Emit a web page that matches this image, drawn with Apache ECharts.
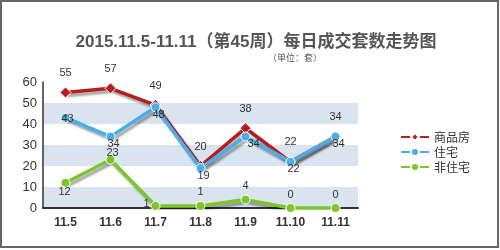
<!DOCTYPE html>
<html lang="zh">
<head>
    <meta charset="UTF-8">
    <title>每日成交套数走势图</title>
    <script src="https://cdn.jsdelivr.net/npm/echarts@6/dist/echarts.min.js"></script>
    <style>
        html, body { margin: 0; padding: 0; background: #fff; }
        #main { width: 500px; height: 250px; }
    </style>
</head>
<body>
<div id="main"></div>
<script>
    // 数据
    const days = ['11.5', '11.6', '11.7', '11.8', '11.9', '11.10', '11.11'];
    const spf = [55, 57, 49, 20, 38, 22, 34];   // 商品房
    const zz = [43, 34, 48, 19, 34, 22, 34];    // 住宅
    const fzz = [12, 23, 1, 1, 4, 0, 0];        // 非住宅
    const yTicks = [0, 10, 20, 30, 40, 50, 60];

    const chart = echarts.init(document.getElementById('main'), null, { renderer: 'canvas' });

    const labelFont = { fontSize: 11, color: '#333', fontFamily: 'Liberation Sans, Arial' };
    const shadow = { shadowColor: 'rgba(0,0,0,0.35)', shadowBlur: 2, shadowOffsetX: 2, shadowOffsetY: 3 };

    const option = {
        animation: false,
        backgroundColor: '#fff',
        title: [{
            text: '2015.11.5-11.11（第45周）每日成交套数走势图',
            left: 251, top: 29, textAlign: 'center',
            textStyle: { fontSize: 17, fontWeight: 'bold', color: '#555', fontFamily: 'Liberation Sans, Noto Sans CJK SC' }
        }, {
            text: '（单位：套）',
            left: 290, top: 48, textAlign: 'center',
            textStyle: { fontSize: 9, fontWeight: 'normal', color: '#555', fontFamily: 'Noto Sans CJK SC' }
        }],
        graphic: [{
            type: 'rect', silent: true, z: 100,
            shape: { x: 1, y: 1, width: 497, height: 246 },
            style: { fill: 'none', stroke: '#666', lineWidth: 2 }
        }],
        legend: {
            orient: 'vertical', left: 395, top: 126,
            itemWidth: 28, itemHeight: 10, itemGap: 3,
            data: ['商品房', '住宅', '非住宅'],
            textStyle: { fontSize: 12, color: '#333', fontFamily: 'Noto Sans CJK SC' }
        },
        grid: { left: 43, top: 82, width: 315, height: 126, containLabel: false },
        xAxis: {
            type: 'category', data: days, boundaryGap: true,
            axisLine: { lineStyle: { color: '#333', width: 2 } },
            axisTick: { show: false },
            axisLabel: { fontSize: 12, fontWeight: 'bold', color: '#333', margin: 9, fontFamily: 'Liberation Sans, Arial' }
        },
        yAxis: {
            type: 'value', min: yTicks[0], max: yTicks[yTicks.length - 1], interval: 10,
            axisLine: { show: true, lineStyle: { color: '#333', width: 1.5 } },
            axisTick: { show: false },
            splitLine: { show: false },
            splitArea: { show: true, areaStyle: { color: ['#dae4ef', '#ffffff'] } },
            axisLabel: { fontSize: 13, color: '#333', margin: 6, fontFamily: 'Liberation Sans, Arial' }
        },
        series: [{
            name: '商品房', type: 'line', data: spf, z: 3,
            symbol: 'diamond', symbolSize: 11,
            lineStyle: Object.assign({ color: '#b81c1c', width: 3.5 }, shadow),
            itemStyle: { color: '#b81c1c', borderColor: '#fff', borderWidth: 1 },
            label: Object.assign({ show: true, position: 'top', distance: 8 }, labelFont)
        }, {
            name: '住宅', type: 'line', data: zz, z: 4,
            symbol: 'circle', symbolSize: 9,
            lineStyle: Object.assign({ color: '#4aaee8', width: 3.5 }, shadow),
            itemStyle: { color: '#4aaee8', borderColor: '#fff', borderWidth: 1 },
            label: Object.assign({ show: true, position: 'bottom', distance: 0, offset: [3, -3] }, labelFont)
        }, {
            name: '非住宅', type: 'line', data: fzz, z: 3,
            symbol: 'circle', symbolSize: 9,
            lineStyle: Object.assign({ color: '#7cc62a', width: 3.5 }, shadow),
            itemStyle: { color: '#7cc62a', borderColor: '#fff', borderWidth: 1 },
            label: Object.assign({ show: true, position: 'top', distance: 3 }, labelFont)
        }]
    };

    // 个别标签位置微调
    option.series[2].data = fzz.map(function (v, i) {
        if (i === 0) return { value: v, label: { position: 'bottom', offset: [-1, -4] } };
        if (i === 1) return { value: v, label: { offset: [2, 7] } };
        if (i === 2) return { value: v, label: { position: 'left', offset: [2, -2] } };
        return v;
    });
    option.series[1].data = zz.map(function (v, i) {
        if (i === 0) return { value: v, label: { position: 'inside', offset: [2, 1] } };
        if (i === 4) return { value: v, label: { position: 'right', offset: [-3, 7] } };
        return v;
    });

    chart.setOption(option);
</script>
</body>
</html>
